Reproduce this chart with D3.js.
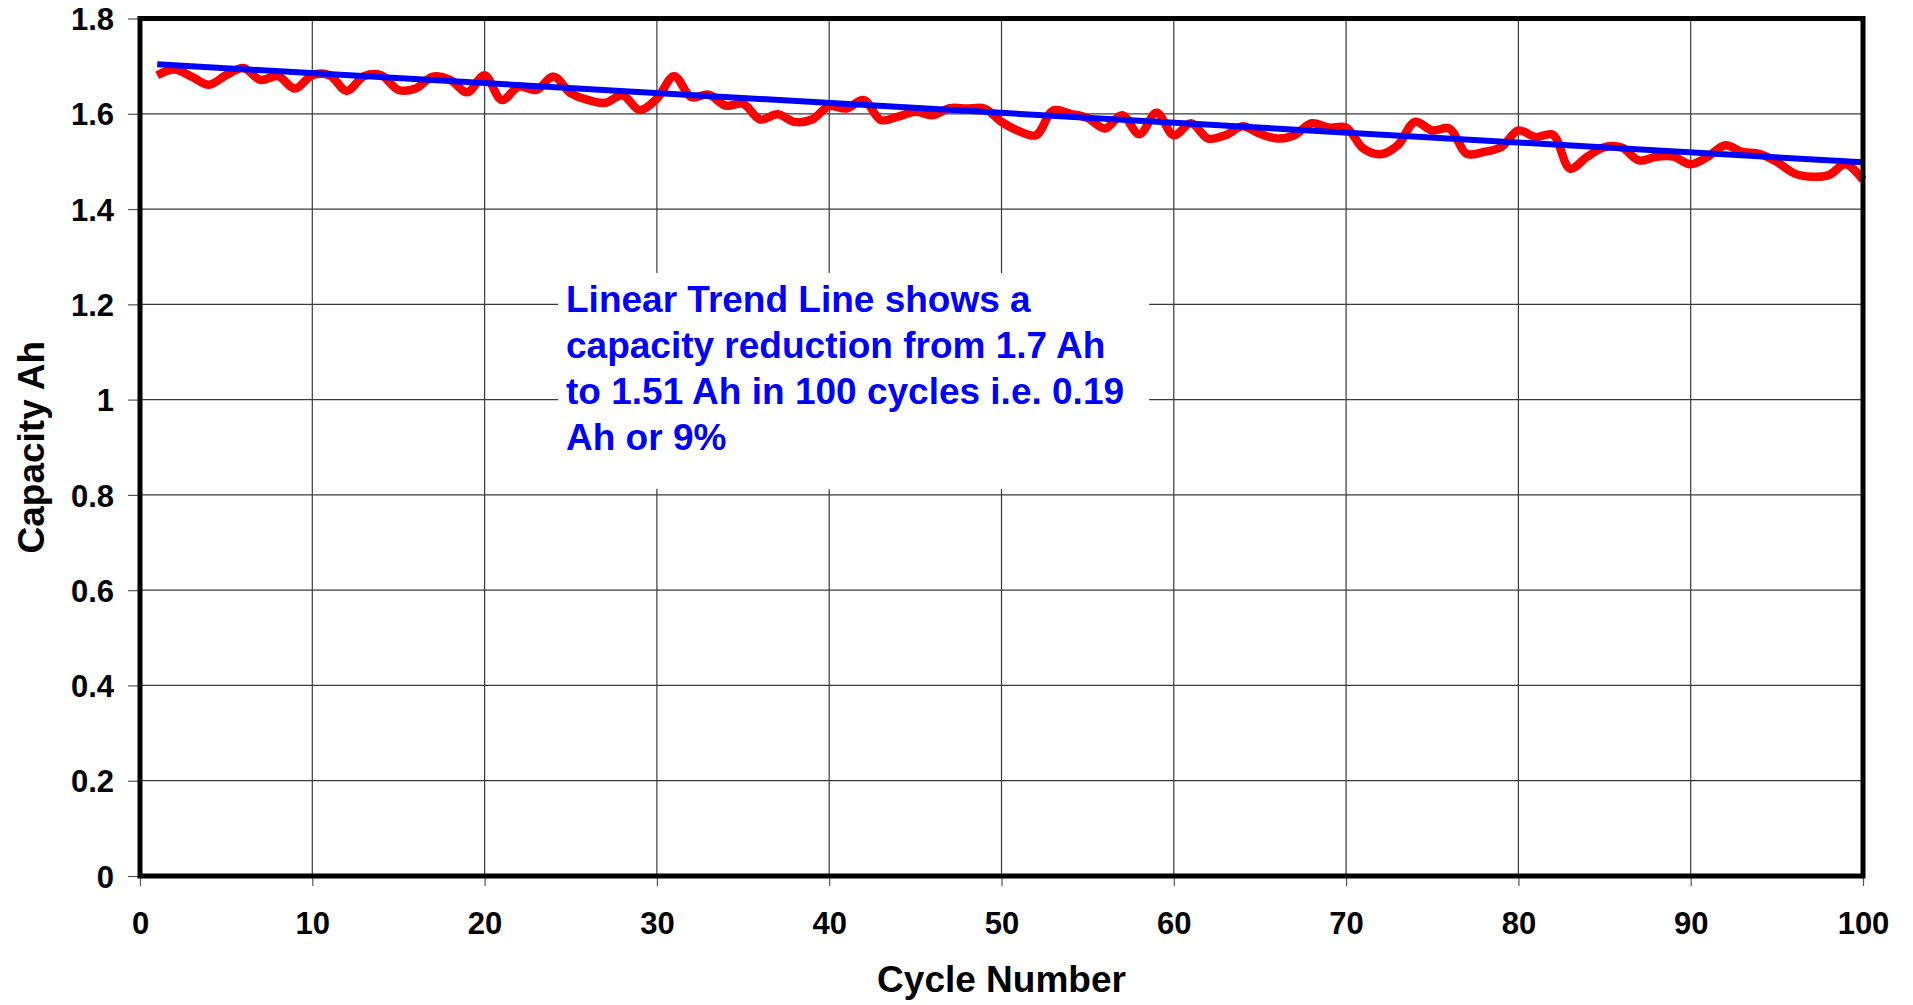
<!DOCTYPE html>
<html>
<head>
<meta charset="utf-8">
<script src="https://cdn.jsdelivr.net/npm/d3@7"></script>
<style>
  body { margin: 0; background: #fff; }
  text { font-family: "Liberation Sans", Arial, sans-serif; font-weight: bold; }
</style>
</head>
<body>
<svg id="chart" width="1913" height="1005"></svg>
<script>
// capacity readings, cycles 1..100
var cycles = d3.range(1, 101);
var capacity = [
  1.681, 1.693, 1.678, 1.661, 1.681, 1.696, 1.671, 1.679, 1.653, 1.681,
  1.681, 1.648, 1.679, 1.681, 1.650, 1.653, 1.678, 1.671, 1.645, 1.681,
  1.629, 1.657, 1.650, 1.678, 1.643, 1.629, 1.623, 1.639, 1.608, 1.632,
  1.679, 1.635, 1.640, 1.617, 1.621, 1.588, 1.599, 1.583, 1.588, 1.616,
  1.611, 1.629, 1.587, 1.594, 1.604, 1.597, 1.612, 1.611, 1.611, 1.583,
  1.564, 1.555, 1.607, 1.600, 1.591, 1.569, 1.597, 1.557, 1.602, 1.555,
  1.580, 1.548, 1.555, 1.574, 1.558, 1.548, 1.555, 1.580, 1.571, 1.571,
  1.527, 1.515, 1.534, 1.583, 1.565, 1.569, 1.516, 1.520, 1.530, 1.565,
  1.551, 1.556, 1.485, 1.510, 1.530, 1.529, 1.502, 1.510, 1.510, 1.494,
  1.510, 1.534, 1.520, 1.516, 1.499, 1.475, 1.468, 1.471, 1.494, 1.461
];
// linear trend line end points
var trendCycles = [1, 100];
var trendValues = [1.704, 1.498];

var xTicks = [0, 10, 20, 30, 40, 50, 60, 70, 80, 90, 100];
var yTicks = [0, 0.2, 0.4, 0.6, 0.8, 1, 1.2, 1.4, 1.6, 1.8];

var note = [
  "Linear Trend Line shows a",
  "capacity reduction from 1.7 Ah",
  "to 1.51 Ah in 100 cycles i.e. 0.19",
  "Ah or 9%"
];

var svg = d3.select("#chart");
var pLeft = 140, pRight = 1863, pTop = 18.5, pBottom = 876;

var x = d3.scaleLinear().domain([0, 100]).range([pLeft, pRight]);
var y = d3.scaleLinear().domain([0, 1.8]).range([pBottom, pTop]);

// grid
svg.append("g")
    .selectAll("line")
    .data(yTicks.slice(1, -1))
  .enter().append("line")
    .attr("x1", pLeft).attr("x2", pRight)
    .attr("y1", function(d){ return y(d); })
    .attr("y2", function(d){ return y(d); })
    .attr("stroke", "#3a3a3a").attr("stroke-width", 1.2);

svg.append("g")
    .selectAll("line")
    .data(xTicks.slice(1, -1))
  .enter().append("line")
    .attr("y1", pTop).attr("y2", pBottom)
    .attr("x1", function(d){ return x(d); })
    .attr("x2", function(d){ return x(d); })
    .attr("stroke", "#3a3a3a").attr("stroke-width", 1.2);

// axes
var yAxis = svg.append("g")
    .attr("transform", "translate(" + pLeft + ",0)")
    .call(d3.axisLeft(y).tickValues(yTicks).tickSize(12)
      .tickFormat(function(d){ return String(d); }));
var xAxis = svg.append("g")
    .attr("transform", "translate(0," + pBottom + ")")
    .call(d3.axisBottom(x).tickValues(xTicks).tickSize(10)
      .tickFormat(function(d){ return String(d); }));

[yAxis, xAxis].forEach(function(g){
  g.select(".domain").remove();
  g.selectAll(".tick line").attr("stroke", "#555").attr("stroke-width", 1.2);
  g.selectAll(".tick text")
    .attr("fill", "#000")
    .style("font-size", "31px")
    .style("font-family", "'Liberation Sans', Arial, sans-serif")
    .style("font-weight", "bold");
});
xAxis.selectAll(".tick text").attr("dy", "0").attr("y", 58);
yAxis.selectAll(".tick text").attr("x", -26).attr("dy", "0.36em");

// annotation box
svg.append("rect")
    .attr("x", 558).attr("y", 273)
    .attr("width", 591).attr("height", 216)
    .attr("fill", "#fff");

svg.append("g")
    .selectAll("text")
    .data(note)
  .enter().append("text")
    .attr("x", 566)
    .attr("y", function(d, i){ return 312 + i * 46; })
    .attr("fill", "#0000ff")
    .style("font-size", "37px")
    .text(function(d){ return d; });

// data line
var line = d3.line()
    .x(function(d, i){ return x(cycles[i]); })
    .y(function(d){ return y(d); })
    .curve(d3.curveCatmullRom.alpha(0.5));

svg.append("path")
    .datum(capacity)
    .attr("d", line)
    .attr("fill", "none")
    .attr("stroke", "#ff0000")
    .attr("stroke-width", 8.5)
    .attr("stroke-linejoin", "round");

var trendLine = d3.line()
    .x(function(d, i){ return x(trendCycles[i]); })
    .y(function(d){ return y(d); });

svg.append("path")
    .datum(trendValues)
    .attr("d", trendLine)
    .attr("fill", "none")
    .attr("stroke", "#0000ff")
    .attr("stroke-width", 6);

// frame
svg.append("rect")
    .attr("x", pLeft).attr("y", pTop)
    .attr("width", pRight - pLeft).attr("height", pBottom - pTop)
    .attr("fill", "none")
    .attr("stroke", "#000")
    .attr("stroke-width", 5);

// titles
svg.append("text")
    .attr("x", (pLeft + pRight) / 2).attr("y", 992)
    .attr("text-anchor", "middle")
    .style("font-size", "37px")
    .text("Cycle Number");

svg.append("text")
    .attr("transform", "translate(44," + ((pTop + pBottom) / 2) + ") rotate(-90)")
    .attr("text-anchor", "middle")
    .style("font-size", "37px")
    .text("Capacity Ah");
</script>
</body>
</html>
